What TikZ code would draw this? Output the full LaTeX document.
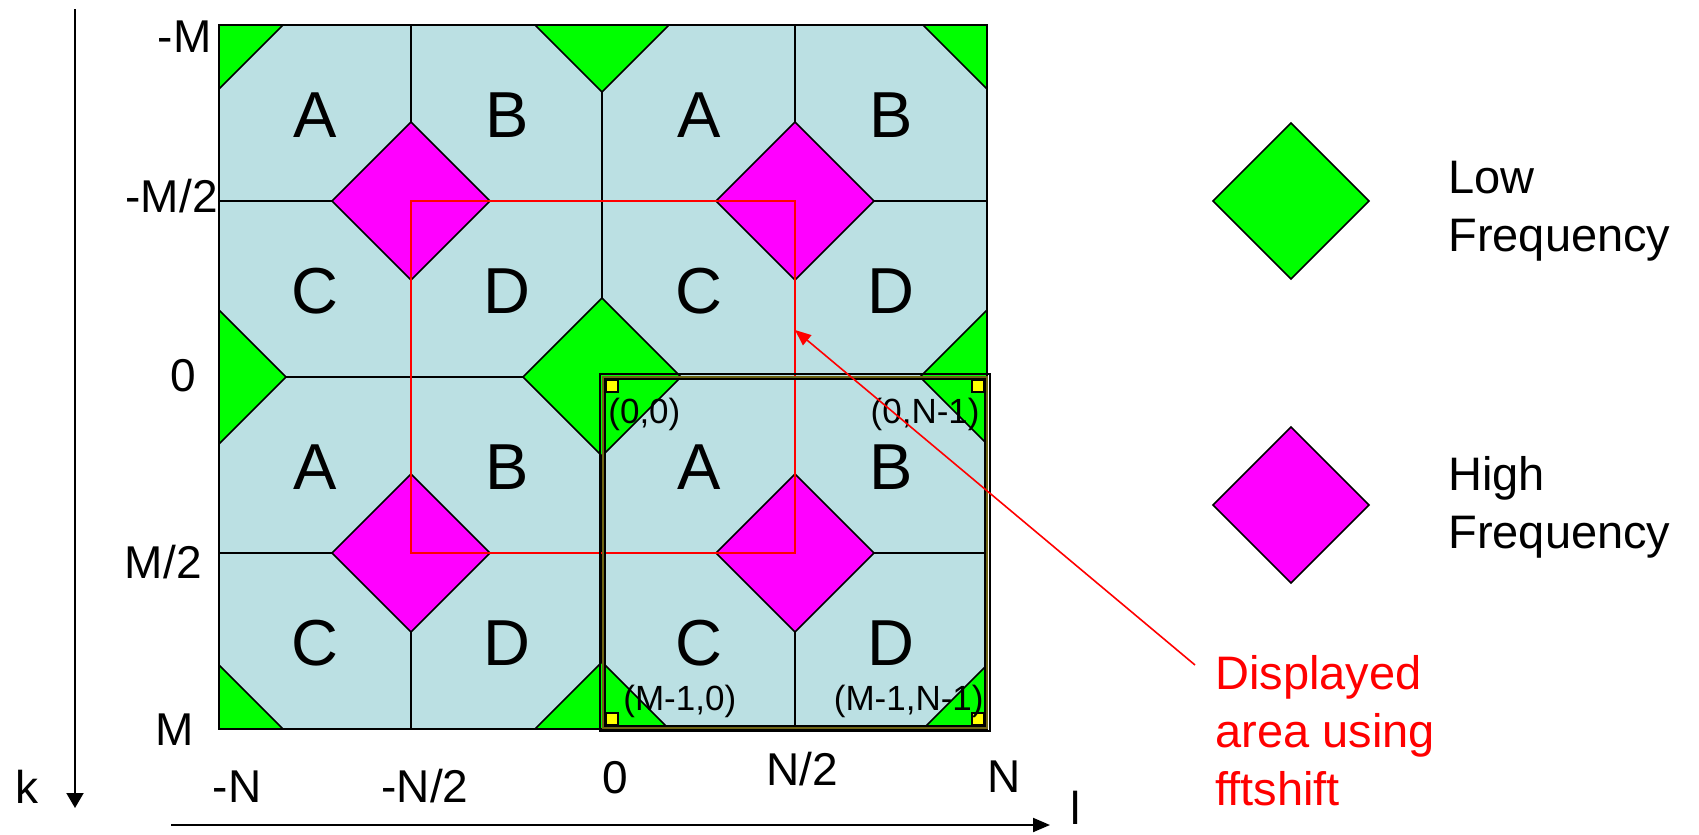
\documentclass[tikz,border=0pt]{standalone}
\usepackage{fontspec}
\setmainfont{Liberation Sans}
\usetikzlibrary{arrows.meta}
\definecolor{cellblue}{RGB}{187,224,227}
\definecolor{lowgreen}{RGB}{0,255,0}
\definecolor{highmag}{RGB}{255,0,255}
\definecolor{frameolive}{RGB}{110,100,20}
\definecolor{sqyellow}{RGB}{255,255,0}
\newcommand\mydiam[4]{\filldraw[fill=#4,draw=black,line width=0.8pt,line join=miter] (#1-#3,#2) -- (#1,#2-#3) -- (#1+#3,#2) -- (#1,#2+#3) -- cycle;}
\begin{document}
\begin{tikzpicture}[x=0.5pt,y=-0.5pt,
  gridline/.style={draw=black,line width=1pt},
  axislbl/.style={inner sep=0pt,font=\fontsize{23}{29}\selectfont},
  cellltr/.style={inner sep=0pt,font=\fontsize{32.5}{38}\selectfont,anchor=base},
  coordlbl/.style={inner sep=0pt,font=\fontsize{17.5}{20}\selectfont},
  legendtxt/.style={inner sep=0pt,font=\fontsize{23.5}{29}\selectfont,align=left,anchor=base west},
  axisline/.style={draw=black,line width=1pt},
  yelsq/.style={fill=sqyellow,draw=black,line width=0.6pt}
]
\useasboundingbox (0,0) rectangle (1699,835);
% grid background
\fill[cellblue] (219,25) rectangle (987,729);
\draw[gridline] (411,25)--(411,729) (602,25)--(602,729) (795,25)--(795,729)
  (219,201)--(987,201) (219,377)--(987,377) (219,553)--(987,553);
\begin{scope}
\clip (219,25) rectangle (987,729);
\mydiam{219}{25}{64}{lowgreen}
\mydiam{987}{25}{64}{lowgreen}
\mydiam{219}{729}{64}{lowgreen}
\mydiam{987}{729}{64}{lowgreen}
\mydiam{602}{25}{67}{lowgreen}
\mydiam{602}{729}{67}{lowgreen}
\mydiam{219}{377}{67}{lowgreen}
\mydiam{987}{377}{67}{lowgreen}
\mydiam{602}{377}{79}{lowgreen}
\mydiam{411}{201}{79}{highmag}
\mydiam{795}{201}{79}{highmag}
\mydiam{411}{553}{79}{highmag}
\mydiam{795}{553}{79}{highmag}
\end{scope}
\draw[line width=1pt] (219,25) rectangle (987,729);
% red box
\draw[red,line width=1pt] (411,201) rectangle (795,553);
% displayed frame
\draw[line width=1.4pt] (600,374) rectangle (990,731);
\draw[frameolive,line width=0.6pt] (603,377) rectangle (987,728);
\draw[line width=0.7pt] (605,379) rectangle (985,726);
\filldraw[yelsq] (606,380) rectangle (618,392);
\filldraw[yelsq] (972,380) rectangle (984,392);
\filldraw[yelsq] (606,713) rectangle (618,725);
\filldraw[yelsq] (972,713) rectangle (984,725);
% cell letters
\node[cellltr] (a1) at (315,137) {A};
\node[cellltr] (b1) at (507,137) {B};
\node[cellltr] (c1) at (315,313) {C};
\node[cellltr] (d1) at (507,313) {D};
\node[cellltr] (a2) at (699,137) {A};
\node[cellltr] (b2) at (891,137) {B};
\node[cellltr] (c2) at (699,313) {C};
\node[cellltr] (d2) at (891,313) {D};
\node[cellltr] (a3) at (315,489) {A};
\node[cellltr] (b3) at (507,489) {B};
\node[cellltr] (c3) at (315,665) {C};
\node[cellltr] (d3) at (507,665) {D};
\node[cellltr] (a4) at (699,489) {A};
\node[cellltr] (b4) at (891,489) {B};
\node[cellltr] (c4) at (699,665) {C};
\node[cellltr] (d4) at (891,665) {D};
% coordinate labels
\node[coordlbl,anchor=base west] (p00) at (608,423) {(0,0)};
\node[coordlbl,anchor=base east] (p0n) at (980,423) {(0,N-1)};
\node[coordlbl,anchor=base west] (pm0) at (623,710) {(M-1,0)};
\node[coordlbl,anchor=base east] (pmn) at (984,710) {(M-1,N-1)};
% axis labels
\node[axislbl,anchor=base east] (lm) at (212,52) {-M};
\node[axislbl,anchor=base east] (lm2) at (218,212) {-M/2};
\node[axislbl,anchor=base] (l0r) at (183,391) {0};
\node[axislbl,anchor=base east] (lpm2) at (202,578) {M/2};
\node[axislbl,anchor=base] (lpm) at (175,745) {M};
\node[axislbl,anchor=base] (ln) at (237,802) {-N};
\node[axislbl,anchor=base] (ln2) at (425,802) {-N/2};
\node[axislbl,anchor=base] (l0c) at (615,793) {0};
\node[axislbl,anchor=base] (lpn2) at (802,785) {N/2};
\node[axislbl,anchor=base] (lpn) at (1004,792) {N};
\node[axislbl,anchor=base] (kl) at (27,803) {k};
\node[axislbl,anchor=base] (ll) at (1076,824) {l};
% axes
\coordinate (kt) at (75,9);
\coordinate (kb) at (75,808);
\coordinate (lt) at (171,825);
\coordinate (lr) at (1050,825);
\draw[axisline,-{Triangle[length=7.5pt,width=8.5pt]}] (kt) -- (kb);
\draw[axisline,-{Triangle[length=8.5pt,width=7pt]}] (lt) -- (lr);
% legend
\mydiam{1291}{201}{78}{lowgreen}
\mydiam{1291}{505}{78}{highmag}
\node[legendtxt] (low) at (1448,251) {Low\\Frequency};
\node[legendtxt] (high) at (1448,548) {High\\Frequency};
% red annotation
\node[legendtxt,text=red] (disp) at (1215,805) {Displayed\\area using\\fftshift};
\coordinate (as) at (1195,665);
\coordinate (ae) at (795,330);
\draw[red,line width=0.8pt,-{Triangle[length=8pt,width=6.5pt]}] (as) -- (ae);
\end{tikzpicture}
\end{document}
